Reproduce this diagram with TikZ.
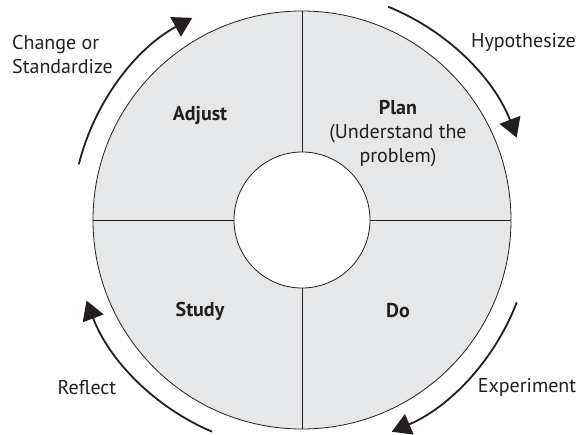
\documentclass[tikz,border=0pt]{standalone}
\usepackage{fontspec}
\setmainfont{PT Sans}
\usetikzlibrary{arrows.meta}
\definecolor{ringfill}{HTML}{E6E7E8}
\definecolor{ink}{HTML}{231F20}
\begin{document}
\begin{tikzpicture}[x=1pt,y=1pt,
  ring/.style={draw=ink, line width=0.8pt},
  cyclearrow/.style={draw=ink, line width=1.8pt, -{Triangle[length=19pt,width=22pt]}},
  phase/.style={text=ink, font=\fontsize{20}{24}\selectfont\bfseries, align=center, inner sep=0pt},
  note/.style={text=ink, font=\fontsize{20}{24}\selectfont, align=center, inner sep=0pt}]
  \useasboundingbox (-302,-214) rectangle (279,220);
  \coordinate (C) at (0,0);
  % shaded ring
  \fill[ringfill, even odd rule] (C) circle[radius=209] (C) circle[radius=68];
  \draw[ring] (C) circle[radius=209];
  \draw[ring] (C) circle[radius=68];
  % quadrant dividers
  \draw[ring] (0,68) -- (0,209);
  \draw[ring] (0,-68) -- (0,-209);
  \draw[ring] (68,0) -- (209,0);
  \draw[ring] (-68,0) -- (-209,0);
  % phase labels
  \node[phase] (adjust) at (-102,105) {Adjust};
  \node[note] (plan) at (96,86) {\textbf{Plan}\\(Understand the\\problem)};
  \node[phase] (study) at (-102,-91) {Study};
  \node[phase] (do) at (96,-91) {Do};
  % arrows around the cycle
  \draw[cyclearrow] (166:230) arc[start angle=166, end angle=118.5, radius=230];
  \draw[cyclearrow] (68:230) arc[start angle=68, end angle=21, radius=230];
  \draw[cyclearrow] (-21:230) arc[start angle=-21, end angle=-67, radius=230];
  \draw[cyclearrow] (247:230) arc[start angle=247, end angle=200.5, radius=230];
  % transition labels
  \node[note, anchor=west, align=left] (change) at (-290,165.5) {Change or\\Standardize};
  \node[note] (hyp) at (221.5,178) {Hypothesize};
  \node[note] (reflect) at (-215,-167) {Reflect};
  \node[note] (exp) at (225,-167) {Experiment};
\end{tikzpicture}
\end{document}
